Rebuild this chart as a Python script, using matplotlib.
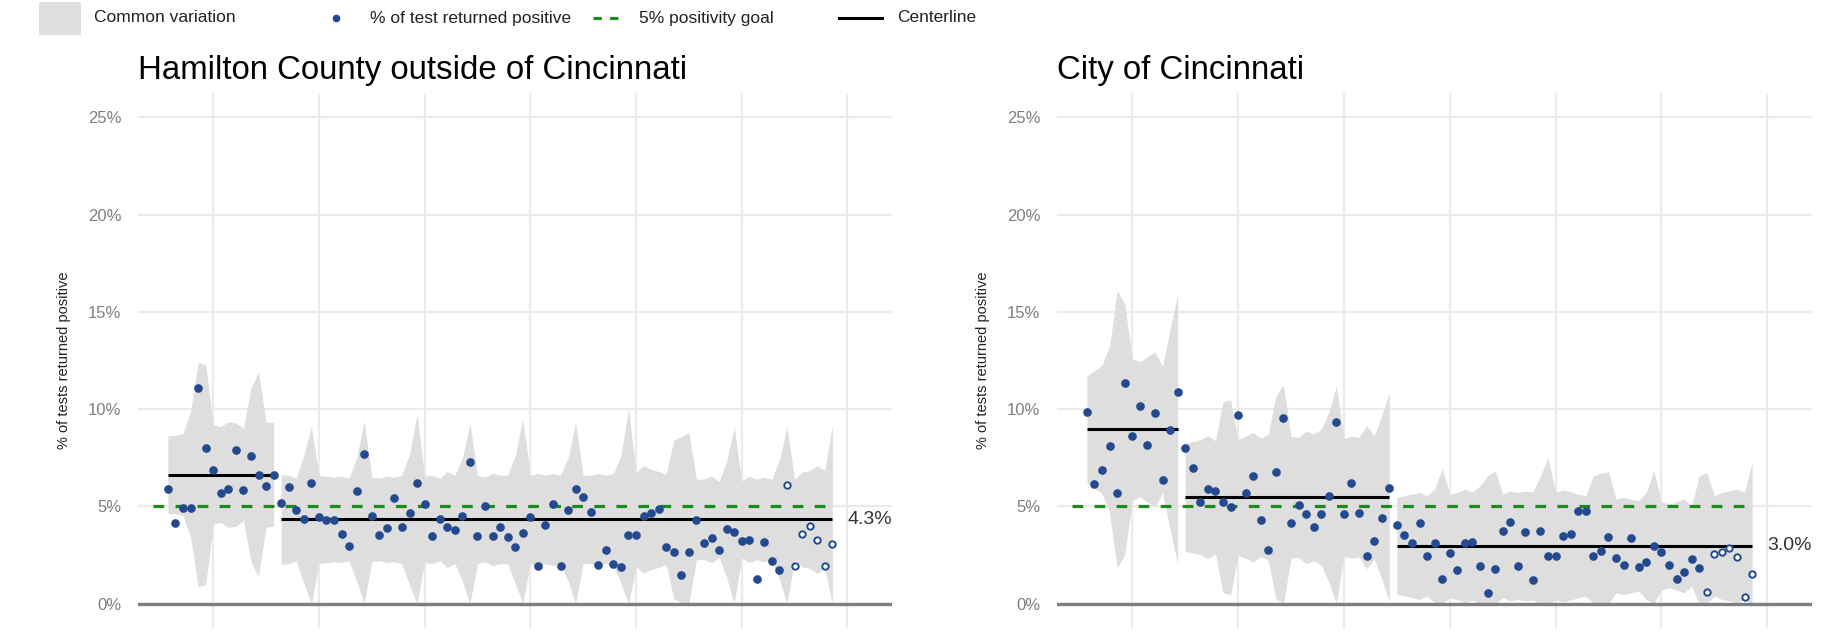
import matplotlib
matplotlib.use("Agg")
import matplotlib.pyplot as plt
from matplotlib.patches import Rectangle
from matplotlib.ticker import FuncFormatter
import numpy as np

plt.rcParams['font.family'] = ['Liberation Sans', 'DejaVu Sans']

# % of tests returned positive, one value per day (day 0 .. 88)
ham_pct = [5.88, 4.15, 4.9, 4.9, 11.08, 7.99, 6.88, 5.68, 5.87, 7.9, 5.85, 7.6, 6.59, 6.05, 6.59,
           5.18, 5.99, 4.8, 4.34, 6.21, 4.48, 4.32, 4.32, 3.58, 2.98, 5.81, 7.67, 4.53, 3.52, 3.9, 5.43,
           3.93, 4.64, 6.22, 5.10, 3.47, 4.33, 3.95, 3.81, 4.52, 7.28, 3.49, 5.0, 3.47, 3.95, 3.42, 2.94,
           3.64, 4.45, 1.92, 4.05, 5.15, 1.92, 4.83, 5.89, 5.46, 4.72, 2.01, 2.75, 2.03, 1.87, 3.54, 3.54,
           4.52, 4.66, 4.86, 2.90, 2.68, 1.48, 2.68, 4.30, 3.13, 3.37, 2.75, 3.85, 3.66, 3.23, 3.28, 1.27,
           3.16, 2.18, 1.75, 6.12, 1.92, 3.57, 4.0, 3.26, 1.94, 3.08]
cin_pct = [9.83, 6.14, 6.85, 8.09, 5.68, 11.35, 8.6, 10.14, 8.15, 9.78, 6.34, 8.92, 10.89,
           7.98, 6.99, 5.21, 5.88, 5.81, 5.23, 4.99, 9.69, 5.69, 6.56, 4.32, 2.75, 6.77, 9.56, 4.14,
           5.08, 4.6, 3.95, 4.63, 5.52, 9.35, 4.6, 6.19, 4.68, 2.44, 3.23, 4.39, 5.93,
           4.03, 3.55, 3.12, 4.16, 2.46, 3.14, 1.28, 2.63, 1.72, 3.11, 3.19, 1.95, 0.53, 1.77, 3.72,
           4.2, 1.95, 3.69, 1.23, 3.72, 2.47, 2.46, 3.46, 3.6, 4.78, 4.78, 2.47, 2.73, 3.41, 2.34,
           2.01, 3.40, 1.88, 2.15, 2.97, 2.66, 2.01, 1.26, 1.62, 2.32, 1.81, 0.6, 2.54, 2.65, 2.88,
           2.39, 0.34, 1.52]

# upper limit of common variation (lower limit is symmetric around the centerline)
ham_ucl = [8.63, 8.66, 8.75, 9.86, 12.4, 12.3, 9.2, 9.1, 9.35, 9.3, 9.0, 11.1, 11.9, 9.35, 9.3,
           6.64, 6.6, 6.45, 7.6, 9.1,
           6.6, 6.55, 6.5, 6.55, 6.45, 7.5, 9.4,
           6.5, 6.45, 6.55, 6.5, 6.6, 7.7, 9.7,
           6.55, 6.6, 6.45, 6.8, 6.6, 7.5, 9.3,
           6.6, 6.5, 6.7, 6.6, 6.6, 7.6, 9.5,
           6.6, 6.7, 6.6, 6.7, 6.6, 7.5, 9.3,
           6.6, 6.6, 6.7, 6.6, 6.7, 7.6, 10.0,
           6.75, 7.1, 6.9, 6.8, 6.65, 8.4, 8.6,
           8.8, 6.4, 6.4, 6.55, 6.3, 7.3, 9.1,
           6.3, 6.55, 6.4, 6.5, 6.4, 7.4, 9.1,
           6.4, 6.75, 6.85, 7.1, 6.85, 9.15]
cin_ucl = [11.7, 11.97, 12.26, 13.25, 16.1, 15.4, 12.6, 12.43, 12.7, 12.94, 12.22, 14.1, 15.9,
           8.26, 8.32, 8.43, 8.63, 8.38, 10.38, 10.48, 8.46, 8.6, 8.8, 8.5, 8.72, 10.68, 11.25,
           8.6, 8.55, 8.89, 8.72, 8.97, 9.83, 11.2, 8.5, 8.6, 8.55, 9.15, 8.63, 9.66, 10.85,
           5.45, 5.55, 5.63, 5.72, 5.55, 5.89, 6.95, 5.63, 5.72, 5.89, 5.75, 6.06, 6.57, 6.83,
           5.63, 5.8, 5.72, 5.78, 5.75, 6.57, 7.51, 5.75, 5.85, 5.75, 5.63, 5.55, 6.57, 6.71,
           6.77, 5.38, 5.46, 5.38, 5.29, 5.72, 6.83, 5.24, 5.12, 5.24, 5.38, 5.03, 6.57, 6.74,
           5.55, 5.72, 5.8, 5.89, 5.72, 7.29]

# phases: first day of each phase and its centerline
ham_starts = [0, 15]
ham_center = [6.64, 4.33]
cin_starts = [0, 13, 41]
cin_center = [8.96, 5.47, 2.97]

# last days are still incomplete (open circles)
first_incomplete = 82
goal = 5

titles = ["Hamilton County outside of Cincinnati", "City of Cincinnati"]
yticks = [0, 5, 10, 15, 20, 25]
legend_labels = ["Common variation", "% of test returned positive",
                 "5% positivity goal", "Centerline"]

blue = "#23498f"
band = "#dedede"
green = "#1e8a1e"
goal_dash = (0, (3.35, 3.55))

fig = plt.figure(figsize=(18.27, 6.37), dpi=100)
axes = [fig.add_axes([0.0755, 0.0141, 0.4127, 0.8399]),
        fig.add_axes([0.5785, 0.0141, 0.4132, 0.8399])]

panels = [(ham_pct, ham_ucl, ham_starts, ham_center),
          (cin_pct, cin_ucl, cin_starts, cin_center)]

for ax, title, (pct, ucl, starts, center) in zip(axes, titles, panels):
    pct = np.array(pct)
    ucl = np.array(ucl)
    days = np.arange(len(pct))
    ends = starts[1:] + [len(pct)]

    for s, e, cl in zip(starts, ends, center):
        d = days[s:e]
        up = ucl[s:e]
        lo = np.clip(2 * cl - up, 0, None)
        ax.fill_between(d, lo, up, color=band, lw=0, zorder=1)
        ax.plot([d[0], d[-1]], [cl, cl], color="black", lw=2.2, zorder=3,
                solid_capstyle="butt")

    ax.axhline(0, color="#7f7f7f", lw=2.4, zorder=2)
    ax.plot([-2, len(pct) - 1], [goal, goal], color=green, lw=2.3,
            linestyle=goal_dash, zorder=3)

    done = days < first_incomplete
    ax.plot(days[done], pct[done], "o", color=blue, ms=5.2, mec=blue, zorder=4)
    ax.plot(days[~done], pct[~done], "o", color="white", ms=4.6, mec=blue,
            mew=1.4, zorder=4)

    ax.text(len(pct) + 1, center[-1], f"{center[-1]:.1f}%", ha="left",
            va="center", fontsize=14, color="#333333")

    ax.set_xlim(-3.97, 95.9)
    ax.set_ylim(-1.25, 26.25)
    ax.set_xticks(np.arange(6, 95, 14))
    ax.set_xticklabels([])
    ax.set_yticks(yticks)
    ax.yaxis.set_major_formatter(FuncFormatter(lambda v, p: f"{v:.0f}%"))
    ax.tick_params(length=0, labelsize=12, labelcolor="#7f7f7f", pad=12)
    ax.grid(True, color="#ebebeb", lw=1.6)
    ax.set_axisbelow(True)
    for sp in ax.spines.values():
        sp.set_visible(False)
    ax.set_ylabel("% of tests returned positive", fontsize=10.5, color="#222222",
                  labelpad=12)
    ax.set_title(title, loc="left", fontsize=23.8, pad=10, x=0.0)

# legend strip along the top, drawn in figure pixels
leg = fig.add_axes([0, 0, 1, 1], zorder=-1)
leg.set_xlim(0, 1827)
leg.set_ylim(637, 0)
leg.axis("off")
leg.add_patch(Rectangle((39, 2), 42, 33, color=band, lw=0))
leg.plot([336], [18], "o", color=blue, ms=4.5)
leg.plot([593, 624], [18, 18], color=green, lw=2.3, ls=(0, (2.6, 2.6)))
leg.plot([839, 882], [18, 18], color="black", lw=2.2)
for x, lab in zip([94, 370, 639, 897], legend_labels):
    leg.text(x, 18, lab, ha="left", va="center", fontsize=12.5, color="#222222")

fig.savefig("out.png", dpi=100)
